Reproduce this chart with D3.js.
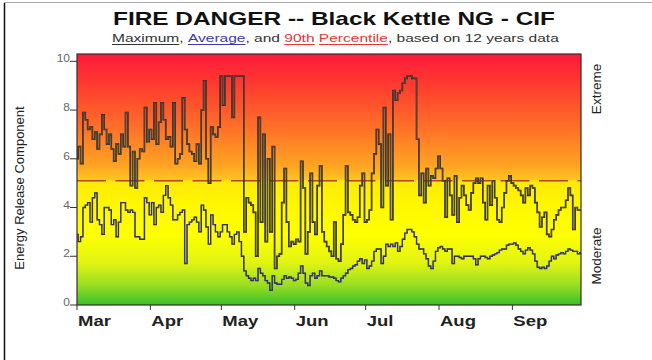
<!DOCTYPE html>
<html><head><meta charset="utf-8">
<script src="https://cdn.jsdelivr.net/npm/d3@7"></script>
<style>body{margin:0;background:#fff}svg{display:block;font-family:Arial,"Liberation Sans",sans-serif}</style>
</head><body><svg id="c" width="652" height="360"></svg>
<script>
// ---- data ----
const startDay = "2000-03-01";
const months = ["Mar","Apr","May","Jun","Jul","Aug","Sep"];
const yTicks = [0,2,4,6,8,10];
const pct90 = 5.1;
const maxERC = [6.0,6.5,5.8,7.9,7.6,7.2,7.3,6.8,7.1,6.4,
7.0,7.8,7.2,6.6,7.0,6.4,5.9,6.6,6.2,7.0,
6.5,7.9,6.5,4.9,6.3,4.8,6.0,6.4,6.3,8.1,
6.7,7.2,6.8,8.3,6.6,7.5,8.3,7.6,6.8,6.9,
6.5,8.3,5.8,6.0,6.2,8.5,7.2,6.6,6.3,6.2,
5.9,6.6,5.8,8.0,9.2,6.0,5.0,7.3,7.0,6.9,
7.3,9.4,8.2,9.4,9.4,9.4,7.7,9.4,9.4,9.4,
9.4,3.0,4.4,4.2,4.1,3.8,2.0,7.7,3.4,7.0,
2.6,6.0,3.0,6.5,1.5,2.0,2.1,4.2,5.6,3.4,
2.4,2.6,2.5,2.7,2.6,5.9,4.8,2.1,3.0,5.4,
3.4,2.9,4.9,5.7,3.0,2.6,2.4,2.2,2.0,3.4,
1.9,1.8,2.5,3.7,5.7,3.8,3.7,3.5,3.4,3.6,
4.9,5.4,3.4,3.5,3.9,5.4,6.2,7.2,6.6,4.0,
8.1,4.9,7.0,3.5,8.8,8.4,8.7,8.8,9.1,9.3,
9.4,9.4,9.3,9.3,6.8,4.5,5.4,4.2,5.6,4.9,
5.3,5.2,5.6,6.1,5.6,5.1,3.6,5.2,4.5,3.7,
5.3,3.4,4.4,4.9,4.5,4.1,3.9,4.6,5.0,5.2,
5.0,5.2,4.2,3.5,4.9,4.1,5.1,4.4,3.5,3.4,
4.0,4.6,5.1,5.3,5.0,4.9,4.8,4.7,4.5,4.2,
4.8,4.5,4.9,4.8,4.2,3.8,3.2,3.6,3.8,2.9,
2.8,3.1,3.5,3.7,3.9,4.0,4.0,4.3,4.8,4.5,
3.1,4.0,3.9,3.9];
const avgERC = [2.9,2.6,2.8,4.0,4.1,4.2,3.4,4.4,4.6,3.5,
3.3,2.9,4.0,4.0,3.9,3.3,3.5,2.8,3.4,4.2,
4.2,3.9,3.8,3.9,3.8,2.8,2.8,2.7,2.7,4.4,
4.2,3.7,4.2,3.3,4.0,4.1,3.8,4.5,4.9,4.4,
4.1,3.5,3.5,3.7,3.8,3.9,1.7,3.3,3.4,3.5,
3.6,3.4,3.0,4.1,3.9,3.2,2.5,3.7,3.3,3.0,
2.8,3.0,3.3,3.3,3.0,2.8,2.5,2.9,3.0,2.6,
2.0,1.4,1.2,1.1,1.0,1.1,1.0,1.5,1.3,1.2,
1.0,0.9,0.6,1.2,0.9,0.85,0.85,1.05,1.2,1.1,
1.15,1.1,1.0,1.05,1.3,1.6,1.3,0.9,0.8,1.2,
1.3,1.1,1.2,1.4,1.2,1.2,1.2,1.15,1.15,1.1,
1.0,0.95,1.1,1.2,1.3,1.45,1.5,1.6,1.65,1.8,
1.9,1.7,1.85,1.5,1.6,1.8,2.2,2.3,2.3,1.7,
2.0,2.5,2.4,2.5,2.4,2.55,2.2,2.4,2.7,2.95,
3.1,3.1,3.0,2.8,2.5,2.3,2.3,2.1,1.9,1.6,
1.5,1.8,2.2,2.35,2.4,2.3,2.2,2.3,2.3,1.7,
2.0,2.0,1.95,1.9,2.0,2.0,2.0,2.0,1.9,1.65,
1.9,2.0,2.0,1.95,1.9,2.0,2.05,2.1,2.15,2.25,
2.3,2.3,2.45,2.5,2.5,2.55,2.45,2.3,2.2,2.1,
2.25,2.35,2.25,2.1,1.8,1.55,1.5,1.55,1.5,1.6,
1.8,2.0,1.9,2.05,2.1,2.15,2.1,2.2,2.3,2.25,
2.2,2.2,2.1,2.15];

// ---- layout ----
const svg = d3.select("#c");
const L = 77, R = 581, T = 54, B = 305;
const SX = 1.32; // horizontal stretch of text in reference
const t0 = new Date(startDay + "T00:00:00Z");
const dates = maxERC.map((_, i) => d3.utcDay.offset(t0, i));
const x = d3.scaleUtc().domain([t0, dates[dates.length - 1]]).range([L, R]);
const y = d3.scaleLinear().domain([0, 10.3]).range([B, T]);

function stretch(sel, f) {
  sel.each(function () {
    const w = this.getComputedTextLength();
    d3.select(this).attr("textLength", w * f).attr("lengthAdjust", "spacingAndGlyphs");
  });
}

// outer frame
svg.append("line").attr("x1", 4.5).attr("x2", 4.5).attr("y1", 3).attr("y2", 360).attr("stroke", "#111").attr("stroke-width", 1.5);
svg.append("line").attr("x1", 4).attr("x2", 652).attr("y1", 2.5).attr("y2", 2.5).attr("stroke", "#aaa").attr("stroke-width", 1);

// gradient background
const defs = svg.append("defs");
const g = defs.append("linearGradient").attr("id", "bg").attr("gradientUnits", "userSpaceOnUse")
  .attr("x1", 0).attr("x2", 0).attr("y1", T).attr("y2", B);
[[0, "#ff1a3c"], [0.12, "#ff3a30"], [0.3, "#ff7228"], [0.45, "#ffa622"], [0.5, "#ffc41e"],
 [0.505, "#ffe80a"], [0.6, "#fff700"], [0.72, "#ffff00"], [0.83, "#e2f412"], [0.92, "#9ade22"], [1, "#3cbf2c"]]
  .forEach(([o, c]) => g.append("stop").attr("offset", o).attr("stop-color", c));
svg.append("rect").attr("x", L).attr("y", T).attr("width", R - L).attr("height", B - T).attr("fill", "url(#bg)");

// 90th percentile dashed line
svg.append("line").attr("x1", L).attr("x2", R).attr("y1", y(pct90)).attr("y2", y(pct90))
  .attr("stroke", "#b8441c").attr("stroke-width", 1.4).attr("stroke-dasharray", "29,9.5");

// lines
const line = d3.line().x((d, i) => x(dates[i])).y(d => y(d)).curve(d3.curveStep);
svg.append("path").datum(avgERC).attr("d", line).attr("fill", "none").attr("stroke", "#23234e").attr("stroke-width", 1.4);
svg.append("path").datum(avgERC).attr("d", line).attr("fill", "none").attr("stroke", "#5050c0").attr("stroke-width", 0.4);
svg.append("path").datum(maxERC).attr("d", line).attr("fill", "none").attr("stroke", "#1a1a1a").attr("stroke-width", 1.6);
svg.append("path").datum(maxERC).attr("d", line).attr("fill", "none").attr("stroke", "#8d8070").attr("stroke-width", 0.45);

// plot border
svg.append("rect").attr("x", L).attr("y", T).attr("width", R - L).attr("height", B - T)
  .attr("fill", "none").attr("stroke", "#3a2a2a").attr("stroke-width", 1.2);

// y axis
const ya = svg.append("g");
ya.selectAll("line").data(yTicks).join("line")
  .attr("x1", 70).attr("x2", L).attr("y1", d => y(d)).attr("y2", d => y(d)).attr("stroke", "#333").attr("stroke-width", 1);
ya.selectAll("text").data(yTicks).join("text")
  .attr("x", 70).attr("y", d => y(d) + 1).attr("text-anchor", "end")
  .attr("font-size", 10).attr("fill", "#666").text(d => d).call(stretch, 1.2);

// x axis
const monthStarts = d3.utcMonth.range(t0, d3.utcMonth.offset(t0, months.length));
const xa = svg.append("g");
xa.selectAll("line").data(monthStarts).join("line")
  .attr("x1", d => x(d)).attr("x2", d => x(d)).attr("y1", B).attr("y2", B + 5).attr("stroke", "#333");
xa.selectAll("text").data(monthStarts).join("text")
  .attr("x", d => x(d) + 1).attr("y", 326).attr("font-size", 14).attr("font-weight", "bold").attr("fill", "#222")
  .text((d, i) => months[i]).call(stretch, SX);

// axis titles
svg.append("text").attr("transform", "translate(24,188) rotate(-90)").attr("text-anchor", "middle")
  .attr("font-size", 13).attr("fill", "#222").text("Energy Release Component");
svg.append("text").attr("transform", "translate(601,89) rotate(-90)").attr("text-anchor", "middle")
  .attr("font-size", 13.5).attr("fill", "#222").text("Extreme");
svg.append("text").attr("transform", "translate(601,256) rotate(-90)").attr("text-anchor", "middle")
  .attr("font-size", 13.5).attr("fill", "#222").text("Moderate");

// title
const title = svg.append("text").attr("x", 334).attr("y", 25).attr("text-anchor", "middle")
  .attr("font-size", 18.5).attr("font-weight", "bold").attr("fill", "#111")
  .text("FIRE DANGER -- Black Kettle NG - CIF");
title.attr("textLength", 442).attr("lengthAdjust", "spacingAndGlyphs");

// subtitle with coloured, underlined segments
const segs = [
  {t: "Maximum", c: "#333", u: true}, {t: ", ", c: "#333"},
  {t: "Average", c: "#3b3ba8", u: true}, {t: ", and ", c: "#333"},
  {t: "90th", c: "#e23838", u: true}, {t: " ", c: "#333"},
  {t: "Percentile", c: "#e23838", u: true}, {t: ", based on 12 years data", c: "#333"}
];
const sg = svg.append("g");
const st = sg.append("text").attr("x", 0).attr("y", 0).attr("font-size", 11.2).attr("fill", "#333");
st.selectAll("tspan").data(segs).join("tspan").attr("fill", d => d.c).text(d => d.t);
const sw = st.node().getComputedTextLength();
const sub = 446 / sw;
sg.attr("transform", `translate(${335 - 223},42) scale(${sub},1)`);
let ci = 0;
segs.forEach(s => {
  if (s.u) {
    const a = st.node().getExtentOfChar(ci), b = st.node().getExtentOfChar(ci + s.t.length - 1);
    sg.append("line").attr("x1", a.x).attr("x2", b.x + b.width).attr("y1", 2.5).attr("y2", 2.5)
      .attr("stroke", s.c).attr("stroke-width", 1);
  }
  ci += s.t.length;
});
</script></body></html>
